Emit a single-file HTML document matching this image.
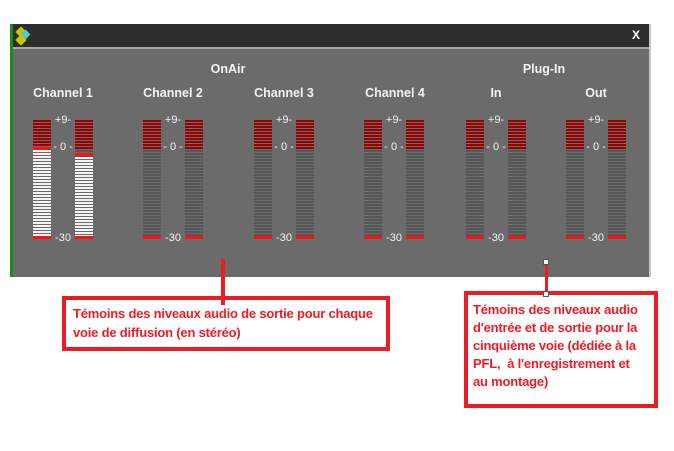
<!DOCTYPE html>
<html><head><meta charset="utf-8"><style>
body{margin:0;width:674px;height:451px;background:#fff;position:relative;overflow:hidden;font-family:"Liberation Sans",sans-serif}
.a{position:absolute}
.win{left:13px;top:24px;width:636px;height:253px;background:#6b6b6b}
.tb{left:13px;top:24px;width:636px;height:23px;background:#2d2d2d}
.hl{left:13px;top:47px;width:636px;height:2px;background:#a8a8a8}
.h{color:#f2f2f2;font-weight:bold;font-size:12.5px;text-align:center;width:100px}
.m{width:18px;height:119px;top:120px;background:
 repeating-linear-gradient(to bottom,#565656 0,#565656 2px,#6b6b6b 2px,#6b6b6b 3px)}
.m::before{content:"";position:absolute;left:0;top:0;width:18px;height:29px;background:repeating-linear-gradient(to bottom,#9b0000 0,#9b0000 2px,#6b6b6b 2px,#6b6b6b 3px)}
.m::after{content:"";position:absolute;left:0;bottom:0;width:18px;height:3px;background:#ff1010}
.w{position:absolute;left:0;width:18px;bottom:0;background:repeating-linear-gradient(to bottom,#f4f4f4 0,#f4f4f4 2px,#6b6b6b 2px,#6b6b6b 3px)}
.r{position:absolute;left:0;width:18px;height:3px;background:#ff1010}
.l{color:#f2f2f2;font-size:11px;width:30px;text-align:center}
.box{border:4px solid #ed1c24;background:#fff;color:#ed1c24;font-weight:bold;font-size:13px;box-sizing:border-box;white-space:nowrap;letter-spacing:-0.2px}
</style></head><body>
<div class="a" style="left:10px;top:24px;width:3px;height:253px;background:#1a8a1a"></div>
<div class="a win"></div><div class="a tb"></div><div class="a hl"></div>
<div class="a" style="left:649px;top:24px;width:2px;height:253px;background:#c8c8c8"></div>
<div class="a" style="left:17px;top:28px;width:8px;height:8px;background:#c8c800;transform:rotate(45deg)"></div>
<div class="a" style="left:17px;top:36px;width:8px;height:8px;background:#c8c800;transform:rotate(45deg)"></div>
<div class="a" style="left:22px;top:31px;width:7px;height:7px;background:#5cc8c8;transform:rotate(45deg)"></div>
<div class="a" style="left:632px;top:28px;color:#fff;font-size:12px;font-weight:bold">X</div>
<div class="a h" style="left:178px;top:62px">OnAir</div>
<div class="a h" style="left:494px;top:62px">Plug-In</div>
<div class="a h" style="left:13px;top:86px">Channel 1</div>
<div class="a h" style="left:123px;top:86px">Channel 2</div>
<div class="a h" style="left:234px;top:86px">Channel 3</div>
<div class="a h" style="left:345px;top:86px">Channel 4</div>
<div class="a h" style="left:446px;top:86px">In</div>
<div class="a h" style="left:546px;top:86px">Out</div>

<div class="a m" style="left:33px"><div class="r" style="top:27px"></div><div class="w" style="top:30px"></div></div>
<div class="a m" style="left:75px"><div class="r" style="top:33px"></div><div class="w" style="top:37px"></div></div>
<div class="a m" style="left:143px"></div><div class="a m" style="left:185px"></div>
<div class="a m" style="left:254px"></div><div class="a m" style="left:296px"></div>
<div class="a m" style="left:364px"></div><div class="a m" style="left:406px"></div>
<div class="a m" style="left:466px"></div><div class="a m" style="left:508px"></div>
<div class="a m" style="left:566px"></div><div class="a m" style="left:608px"></div>

<div class="a l" style="left:48px;top:114px">+9-</div><div class="a l" style="left:48px;top:141px">- 0 -</div><div class="a l" style="left:48px;top:232px">-30</div>
<div class="a l" style="left:158px;top:114px">+9-</div><div class="a l" style="left:158px;top:141px">- 0 -</div><div class="a l" style="left:158px;top:232px">-30</div>
<div class="a l" style="left:269px;top:114px">+9-</div><div class="a l" style="left:269px;top:141px">- 0 -</div><div class="a l" style="left:269px;top:232px">-30</div>
<div class="a l" style="left:379px;top:114px">+9-</div><div class="a l" style="left:379px;top:141px">- 0 -</div><div class="a l" style="left:379px;top:232px">-30</div>
<div class="a l" style="left:481px;top:114px">+9-</div><div class="a l" style="left:481px;top:141px">- 0 -</div><div class="a l" style="left:481px;top:232px">-30</div>
<div class="a l" style="left:581px;top:114px">+9-</div><div class="a l" style="left:581px;top:141px">- 0 -</div><div class="a l" style="left:581px;top:232px">-30</div>

<div class="a" style="left:221px;top:259px;width:4px;height:44px;background:#ed1c24"></div>
<div class="a box" style="left:62px;top:296px;width:328px;height:55px;padding:4px 0 0 7px;line-height:19px">Témoins des niveaux audio de sortie pour chaque<br>voie de diffusion (en stéréo)</div>
<div class="a" style="left:221px;top:299px;width:4px;height:6px;background:#ed1c24"></div>

<div class="a" style="left:545px;top:262px;width:3px;height:31px;background:#ed1c24"></div>
<div class="a box" style="left:464px;top:291px;width:194px;height:117px;padding:6px 2px 0 5px;line-height:18px">Témoins des niveaux audio<br>d'entrée et de sortie pour la<br>cinquième voie (dédiée à la<br>PFL,&nbsp; à l'enregistrement et<br>au montage)</div>
<div class="a" style="left:543px;top:259px;width:4px;height:4px;background:#fff;border:1px solid #555"></div>
<div class="a" style="left:543px;top:291px;width:4px;height:4px;background:#fff;border:1px solid #555"></div>
</body></html>
